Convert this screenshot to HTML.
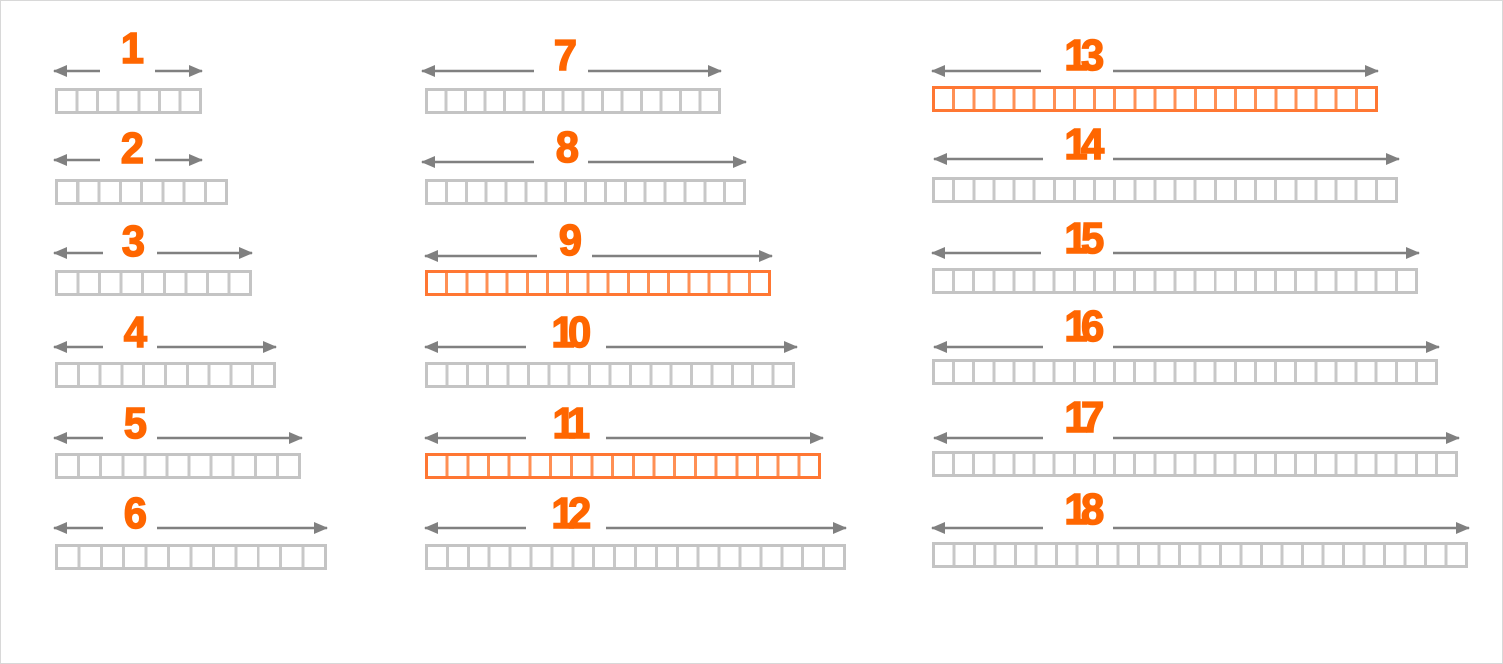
<!DOCTYPE html>
<html><head><meta charset="utf-8"><style>
body{margin:0;background:#fff;}
#f{position:relative;width:1501px;height:662px;border:1px solid #d8d8d8;overflow:hidden;background:#fff;font-family:"Liberation Sans",sans-serif;}
.b{position:absolute;height:26px;box-sizing:border-box;border:3px solid #c4c4c4;background-color:#c4c4c4;}
.b i{position:absolute;left:0;top:0;right:0;bottom:0;background:repeating-linear-gradient(90deg,#fff 0,#fff calc(var(--p) - 3px),#c8c8c8 calc(var(--p) - 3px),#c8c8c8 var(--p));}
.o{border-color:#ff7733;}
.o i{background:repeating-linear-gradient(90deg,#fff 0,#fff calc(var(--p) - 3px),#ff9055 calc(var(--p) - 3px),#ff9055 var(--p));}
.n{position:absolute;width:80px;text-align:center;color:#ff6600;font-weight:bold;font-size:44px;line-height:44px;transform:scaleX(.95);letter-spacing:-7px;-webkit-text-stroke:1.5px #ff6600;}
svg{position:absolute;left:0;top:0;}
</style></head><body><div id="f">
<svg width="1501" height="662">
<defs>
<marker id="a" markerWidth="14" markerHeight="12" refX="13" refY="6" orient="auto" markerUnits="userSpaceOnUse"><path d="M0,0L14,6L0,12z" fill="#808080"/></marker>
<marker id="s" markerWidth="14" markerHeight="12" refX="1" refY="6" orient="auto" markerUnits="userSpaceOnUse"><path d="M14,0L0,6L14,12z" fill="#808080"/></marker>
</defs>
<g stroke="#808080" stroke-width="2.5">
<line x1="53" y1="70" x2="99" y2="70" marker-start="url(#s)"/><line x1="154" y1="70" x2="201" y2="70" marker-end="url(#a)"/>
<line x1="53" y1="159" x2="99" y2="159" marker-start="url(#s)"/><line x1="154" y1="159" x2="201" y2="159" marker-end="url(#a)"/>
<line x1="53" y1="252" x2="102" y2="252" marker-start="url(#s)"/><line x1="156" y1="252" x2="251" y2="252" marker-end="url(#a)"/>
<line x1="53" y1="346" x2="102" y2="346" marker-start="url(#s)"/><line x1="156" y1="346" x2="275" y2="346" marker-end="url(#a)"/>
<line x1="53" y1="437" x2="102" y2="437" marker-start="url(#s)"/><line x1="156" y1="437" x2="301" y2="437" marker-end="url(#a)"/>
<line x1="53" y1="527" x2="102" y2="527" marker-start="url(#s)"/><line x1="156" y1="527" x2="326" y2="527" marker-end="url(#a)"/>

<line x1="421" y1="70" x2="533" y2="70" marker-start="url(#s)"/><line x1="587" y1="70" x2="720" y2="70" marker-end="url(#a)"/>
<line x1="421" y1="161" x2="533" y2="161" marker-start="url(#s)"/><line x1="587" y1="161" x2="745" y2="161" marker-end="url(#a)"/>
<line x1="424" y1="255" x2="536" y2="255" marker-start="url(#s)"/><line x1="591" y1="255" x2="771" y2="255" marker-end="url(#a)"/>
<line x1="424" y1="346" x2="525" y2="346" marker-start="url(#s)"/><line x1="605" y1="346" x2="796" y2="346" marker-end="url(#a)"/>
<line x1="424" y1="437" x2="525" y2="437" marker-start="url(#s)"/><line x1="605" y1="437" x2="822" y2="437" marker-end="url(#a)"/>
<line x1="424" y1="527" x2="525" y2="527" marker-start="url(#s)"/><line x1="605" y1="527" x2="845" y2="527" marker-end="url(#a)"/>

<line x1="931" y1="70" x2="1040" y2="70" marker-start="url(#s)"/><line x1="1112" y1="70" x2="1377" y2="70" marker-end="url(#a)"/>
<line x1="933" y1="158" x2="1042" y2="158" marker-start="url(#s)"/><line x1="1112" y1="158" x2="1398" y2="158" marker-end="url(#a)"/>
<line x1="931" y1="252" x2="1040" y2="252" marker-start="url(#s)"/><line x1="1112" y1="252" x2="1418" y2="252" marker-end="url(#a)"/>
<line x1="933" y1="346" x2="1042" y2="346" marker-start="url(#s)"/><line x1="1112" y1="346" x2="1438" y2="346" marker-end="url(#a)"/>
<line x1="933" y1="437" x2="1042" y2="437" marker-start="url(#s)"/><line x1="1112" y1="437" x2="1458" y2="437" marker-end="url(#a)"/>
<line x1="931" y1="527" x2="1042" y2="527" marker-start="url(#s)"/><line x1="1112" y1="527" x2="1468" y2="527" marker-end="url(#a)"/>
</g></svg>

<div class="n" style="left:88px;top:26px">1</div>
<div class="n" style="left:88px;top:126px">2</div>
<div class="n" style="left:89px;top:219px">3</div>
<div class="n" style="left:91px;top:310px">4</div>
<div class="n" style="left:91px;top:401px">5</div>
<div class="n" style="left:91px;top:491px">6</div>
<div class="n" style="left:521px;top:33px">7</div>
<div class="n" style="left:523px;top:125px">8</div>
<div class="n" style="left:526px;top:218px">9</div>
<div class="n" style="left:527px;top:310px">10</div>
<div class="n" style="left:527px;top:401px">11</div>
<div class="n" style="left:527px;top:491px">12</div>
<div class="n" style="left:1040px;top:33px">13</div>
<div class="n" style="left:1040px;top:122px">14</div>
<div class="n" style="left:1040px;top:216px">15</div>
<div class="n" style="left:1040px;top:304px">16</div>
<div class="n" style="left:1040px;top:395px">17</div>
<div class="n" style="left:1040px;top:487px">18</div>

<div class="b" style="left:54px;top:87px;width:147px;--p:calc(144px/7)"><i></i></div>
<div class="b" style="left:54px;top:178px;width:173px;--p:calc(170px/8)"><i></i></div>
<div class="b" style="left:54px;top:269px;width:197px;--p:calc(194px/9)"><i></i></div>
<div class="b" style="left:54px;top:361px;width:221px;--p:calc(218px/10)"><i></i></div>
<div class="b" style="left:54px;top:452px;width:246px;--p:calc(243px/11)"><i></i></div>
<div class="b" style="left:54px;top:543px;width:272px;--p:calc(269px/12)"><i></i></div>

<div class="b" style="left:424px;top:87px;width:296px;--p:calc(293px/15)"><i></i></div>
<div class="b" style="left:424px;top:178px;width:321px;--p:calc(318px/16)"><i></i></div>
<div class="b o" style="left:424px;top:269px;width:346px;--p:calc(343px/17)"><i></i></div>
<div class="b" style="left:424px;top:361px;width:370px;--p:calc(367px/18)"><i></i></div>
<div class="b o" style="left:424px;top:452px;width:396px;--p:calc(393px/19)"><i></i></div>
<div class="b" style="left:424px;top:543px;width:421px;--p:calc(418px/20)"><i></i></div>

<div class="b o" style="left:931px;top:85px;width:446px;--p:calc(443px/22)"><i></i></div>
<div class="b" style="left:931px;top:176px;width:466px;--p:calc(463px/23)"><i></i></div>
<div class="b" style="left:931px;top:267px;width:486px;--p:calc(483px/24)"><i></i></div>
<div class="b" style="left:931px;top:358px;width:506px;--p:calc(503px/25)"><i></i></div>
<div class="b" style="left:931px;top:450px;width:526px;--p:calc(523px/26)"><i></i></div>
<div class="b" style="left:931px;top:541px;width:536px;--p:calc(533px/26)"><i></i></div>
</div></body></html>
